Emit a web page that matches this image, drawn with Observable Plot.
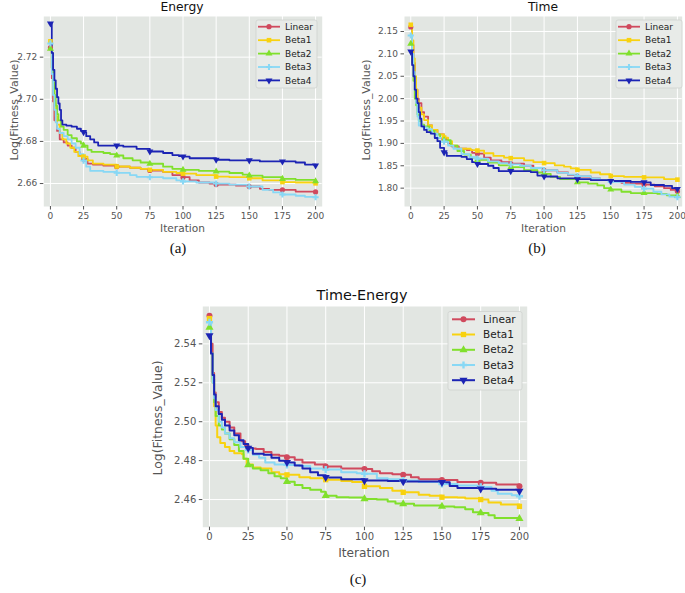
<!DOCTYPE html>
<html><head><meta charset="utf-8">
<script src="https://cdn.jsdelivr.net/npm/d3@7"></script>
<script src="https://cdn.jsdelivr.net/npm/@observablehq/plot@0.6"></script>
<style>
body{margin:0;background:#fff;}
#root{position:relative;width:685px;height:593px;overflow:hidden;font-family:"DejaVu Sans",sans-serif;background:#fff;}
.lbl{position:absolute;white-space:nowrap;transform:translate(-50%,-50%);color:#555;line-height:1;}
.ttl{color:#111;}
.ylab{transform:translate(-50%,-50%) rotate(-90deg);}
.cap{font-family:"Liberation Serif","DejaVu Serif",serif;color:#111;}
</style></head>
<body><div id="root"></div>
<script>
// ---------- data ----------
const seriesNames = ["Linear", "Beta1", "Beta2", "Beta3", "Beta4"];
const seriesColors = ["#d04a5e", "#f8d210", "#80e02c", "#88d8f5", "#1c24b4"];
const xTicks = [0, 25, 50, 75, 100, 125, 150, 175, 200];
const energyYTicks = [2.66, 2.68, 2.70, 2.72];
const timeYTicks = [1.80, 1.85, 1.90, 1.95, 2.00, 2.05, 2.10, 2.15];
const teYTicks = [2.46, 2.48, 2.50, 2.52, 2.54];

const energyLinear = [[0,2.7245],[1,2.71],[2,2.699],[3,2.69],[5,2.685],[7,2.681],[10,2.6795],[13,2.678],[16,2.677],[19,2.675],[22,2.673],[25,2.6717],[28,2.6695],[32,2.669],[40,2.6685],[50,2.668],[60,2.6675],[68,2.667],[75,2.6662],[85,2.6655],[92,2.664],[100,2.663],[105,2.6615],[112,2.6605],[120,2.66],[125,2.6595],[140,2.659],[150,2.6586],[158,2.6575],[165,2.657],[175,2.657],[185,2.6562],[200,2.656]];
const energyBeta1 = [[0,2.7275],[1,2.715],[2,2.705],[3,2.698],[4,2.692],[5,2.688],[7,2.684],[9,2.681],[12,2.679],[15,2.677],[18,2.675],[21,2.673],[25,2.6728],[28,2.671],[32,2.6695],[40,2.669],[50,2.6681],[60,2.6675],[68,2.667],[75,2.6665],[85,2.6655],[95,2.665],[100,2.6647],[110,2.664],[125,2.6633],[135,2.663],[150,2.6625],[160,2.6615],[175,2.6607],[185,2.6605],[200,2.6601]];
const energyBeta2 = [[0,2.724],[1,2.715],[2,2.708],[3,2.702],[4,2.697],[5,2.693],[6,2.69],[8,2.687],[10,2.6855],[13,2.683],[16,2.6815],[20,2.68],[23,2.679],[25,2.678],[28,2.676],[31,2.675],[40,2.6745],[45,2.674],[50,2.6733],[55,2.672],[62,2.671],[68,2.67],[75,2.6694],[85,2.668],[92,2.667],[100,2.6665],[112,2.666],[125,2.6657],[135,2.665],[145,2.6642],[150,2.6638],[160,2.663],[175,2.6622],[185,2.6617],[200,2.6611]];
const energyBeta3 = [[0,2.7265],[1,2.712],[2,2.702],[3,2.695],[4,2.689],[5,2.686],[7,2.684],[10,2.6825],[13,2.681],[16,2.679],[19,2.677],[22,2.674],[25,2.6709],[27,2.668],[30,2.666],[40,2.6655],[50,2.6651],[60,2.664],[65,2.6632],[75,2.663],[85,2.6625],[95,2.6615],[100,2.661],[110,2.6605],[125,2.66],[135,2.6595],[150,2.6586],[160,2.657],[168,2.6558],[175,2.6548],[185,2.6542],[192,2.6537],[200,2.6535]];
const energyBeta4 = [[0,2.736],[1,2.722],[2,2.714],[3,2.709],[4,2.705],[5,2.701],[6,2.698],[7,2.695],[8,2.69],[9,2.688],[12,2.6875],[16,2.687],[20,2.686],[23,2.685],[25,2.6844],[27,2.6825],[30,2.681],[33,2.6795],[36,2.678],[50,2.678],[55,2.6775],[65,2.6765],[75,2.6752],[85,2.6745],[92,2.6735],[97,2.673],[100,2.6728],[105,2.672],[125,2.6713],[135,2.671],[150,2.671],[158,2.6705],[175,2.6705],[185,2.67],[192,2.669],[200,2.6686]];

const timeLinear = [[0,2.16],[1,2.12],[2,2.08],[3,2.04],[4,2.02],[5,2.0],[6,1.99],[8,1.97],[10,1.96],[13,1.94],[16,1.93],[20,1.92],[25,1.909],[28,1.9],[31,1.893],[36,1.888],[42,1.885],[46,1.879],[50,1.877],[55,1.868],[60,1.862],[68,1.858],[75,1.855],[85,1.85],[92,1.845],[100,1.84],[110,1.835],[118,1.829],[125,1.826],[135,1.822],[142,1.818],[150,1.816],[158,1.812],[165,1.81],[175,1.808],[183,1.804],[190,1.8],[195,1.796],[200,1.793]];
const timeBeta1 = [[0,2.165],[1,2.13],[2,2.09],[3,2.05],[4,2.02],[5,1.995],[6,1.98],[8,1.965],[10,1.952],[13,1.94],[16,1.93],[20,1.92],[25,1.913],[28,1.905],[31,1.895],[35,1.888],[45,1.885],[50,1.884],[55,1.878],[62,1.872],[70,1.868],[75,1.867],[85,1.862],[92,1.858],[100,1.856],[108,1.851],[115,1.848],[120,1.844],[125,1.841],[135,1.835],[142,1.831],[150,1.827],[160,1.825],[175,1.824],[190,1.82],[200,1.819]];
const timeBeta2 = [[0,2.1225],[1,2.08],[2,2.04],[3,2.0],[4,1.985],[5,1.965],[6,1.95],[8,1.942],[10,1.938],[14,1.928],[18,1.92],[22,1.912],[25,1.907],[30,1.895],[35,1.883],[40,1.875],[45,1.868],[50,1.863],[58,1.857],[66,1.851],[75,1.847],[85,1.84],[95,1.835],[100,1.832],[105,1.825],[112,1.82],[125,1.813],[133,1.81],[140,1.806],[145,1.8],[150,1.797],[158,1.792],[165,1.789],[175,1.789],[185,1.787],[192,1.784],[200,1.783]];
const timeBeta3 = [[0,2.141],[1,2.1],[2,2.06],[3,2.02],[4,1.99],[5,1.96],[6,1.94],[9,1.936],[12,1.932],[16,1.922],[20,1.912],[25,1.904],[28,1.895],[32,1.888],[38,1.876],[44,1.869],[50,1.866],[58,1.86],[66,1.856],[75,1.853],[82,1.85],[90,1.845],[100,1.84],[110,1.834],[118,1.83],[125,1.827],[135,1.822],[142,1.818],[150,1.814],[160,1.808],[168,1.803],[175,1.799],[182,1.792],[188,1.786],[194,1.781],[200,1.78]];
const timeBeta4 = [[0,2.105],[1,2.075],[2,2.05],[3,2.02],[4,2.0],[5,1.99],[6,1.97],[7,1.955],[8,1.938],[10,1.93],[12,1.925],[15,1.922],[18,1.912],[20,1.905],[22,1.89],[25,1.88],[27,1.872],[38,1.87],[42,1.865],[46,1.858],[50,1.854],[58,1.85],[62,1.845],[66,1.838],[75,1.838],[90,1.836],[95,1.828],[100,1.826],[110,1.822],[125,1.82],[135,1.818],[150,1.816],[165,1.814],[175,1.813],[180,1.807],[190,1.805],[196,1.8],[200,1.798]];

const teLinear = [[0,2.5545],[1,2.54],[2,2.525],[3,2.515],[4,2.51],[6,2.505],[8,2.502],[10,2.5],[13,2.497],[16,2.494],[20,2.49],[23,2.4875],[25,2.4862],[30,2.486],[35,2.4845],[40,2.483],[45,2.4825],[50,2.4817],[55,2.4805],[60,2.479],[68,2.478],[75,2.477],[85,2.476],[100,2.4757],[105,2.4745],[110,2.4735],[118,2.473],[125,2.4727],[130,2.4715],[135,2.4705],[150,2.47],[160,2.469],[175,2.4686],[185,2.4678],[200,2.4668]];
const teBeta1 = [[0,2.553],[1,2.535],[2,2.52],[3,2.508],[4,2.498],[5,2.492],[7,2.489],[10,2.487],[13,2.485],[16,2.4838],[21,2.4833],[22,2.481],[24,2.478],[28,2.4765],[33,2.476],[40,2.474],[45,2.473],[50,2.4727],[58,2.4715],[65,2.471],[75,2.4702],[85,2.4695],[92,2.469],[100,2.4668],[110,2.466],[118,2.4645],[125,2.4637],[135,2.4625],[142,2.462],[150,2.4612],[160,2.461],[165,2.4605],[175,2.46],[180,2.4585],[188,2.4575],[200,2.4565]];
const teBeta2 = [[0,2.5485],[1,2.535],[2,2.522],[3,2.51],[4,2.503],[6,2.498],[8,2.496],[10,2.494],[13,2.491],[16,2.488],[19,2.485],[22,2.481],[25,2.4778],[28,2.476],[33,2.475],[38,2.4735],[42,2.472],[46,2.471],[50,2.4692],[55,2.4675],[60,2.466],[65,2.465],[72,2.464],[75,2.462],[82,2.4612],[90,2.461],[100,2.4603],[108,2.46],[115,2.459],[120,2.458],[125,2.4578],[132,2.457],[150,2.4565],[158,2.456],[165,2.455],[170,2.4535],[175,2.4531],[180,2.452],[184,2.4505],[200,2.4502]];
const teBeta3 = [[0,2.5511],[1,2.535],[2,2.52],[3,2.512],[4,2.506],[6,2.5],[8,2.497],[10,2.494],[13,2.4915],[16,2.4895],[20,2.487],[25,2.4855],[28,2.483],[32,2.4815],[36,2.479],[42,2.478],[50,2.4778],[58,2.4772],[65,2.476],[75,2.4754],[85,2.474],[95,2.4735],[100,2.4732],[108,2.471],[115,2.4705],[125,2.4698],[135,2.469],[150,2.468],[160,2.4672],[175,2.4665],[182,2.4645],[186,2.463],[195,2.4622],[200,2.4617]];
const teBeta4 = [[0,2.5443],[1,2.535],[2,2.524],[3,2.514],[4,2.508],[6,2.504],[8,2.501],[10,2.498],[13,2.4955],[16,2.493],[19,2.4905],[22,2.4885],[25,2.4865],[28,2.4835],[35,2.483],[40,2.4815],[45,2.48],[50,2.4791],[55,2.4775],[60,2.476],[65,2.474],[70,2.4725],[75,2.4714],[85,2.4705],[100,2.4698],[115,2.4695],[125,2.4693],[150,2.4689],[155,2.467],[160,2.466],[175,2.4655],[185,2.465],[200,2.4643]];

// ---------- symbols ----------
const sqrt3 = Math.sqrt(3);
const symbolTriangleDown = {
  draw(context, size) {
    const y = -Math.sqrt(size / (sqrt3 * 3));
    context.moveTo(0, -y * 2);
    context.lineTo(-sqrt3 * y, y);
    context.lineTo(sqrt3 * y, y);
    context.closePath();
  }
};
const seriesSymbols = [d3.symbolCircle, d3.symbolSquare, d3.symbolTriangle, d3.symbolCross, symbolTriangleDown];

const root = document.getElementById("root");
const BG = "#e2e6e2";

function panel(cfg) {
  const {left, top, width, height, ml, mr, mt, mb, xDomain, yDomain, yTicks, data, tickFont, lw, r, legend} = cfg;
  const marks = [
    Plot.frame({fill: BG, stroke: null}),
    Plot.gridX(xTicks, {stroke: "#ffffff", strokeOpacity: 1, strokeWidth: 1}),
    Plot.gridY(yTicks, {stroke: "#ffffff", strokeOpacity: 1, strokeWidth: 1}),
    Plot.axisX(xTicks, {tickSize: 3.5, tickPadding: 2.5, label: null, color: "#555", fontSize: tickFont}),
    Plot.axisY(yTicks, {tickSize: 3.5, tickPadding: 3, label: null, color: "#555", fontSize: tickFont, tickFormat: d3.format(".2f")})
  ];
  data.forEach((vals, k) => {
    marks.push(Plot.line(vals, {x: d => d[0], y: d => d[1], curve: "step-after", stroke: seriesColors[k], strokeWidth: lw}));
  });
  data.forEach((vals, k) => {
    marks.push(Plot.dot(vals.filter(d => d[0] % 25 === 0), {x: d => d[0], y: d => d[1], symbol: seriesSymbols[k], r: r, fill: seriesColors[k], stroke: null}));
  });
  const svg = Plot.plot({
    width, height, marginLeft: ml, marginRight: mr, marginTop: mt, marginBottom: mb,
    x: {domain: xDomain},
    y: {domain: yDomain},
    style: {fontFamily: "DejaVu Sans, sans-serif", fontSize: tickFont + "px", overflow: "visible", background: "transparent"},
    marks
  });
  svg.style.position = "absolute";
  svg.style.left = left + "px";
  svg.style.top = top + "px";
  root.appendChild(svg);

  // legend
  const g = d3.select(svg).append("g").attr("transform", `translate(${-left},${-top})`).attr("text-anchor", "start");
  const L = legend;
  g.append("rect").attr("x", L.x0).attr("y", L.y0).attr("width", L.x1 - L.x0).attr("height", L.y1 - L.y0)
    .attr("rx", 2).attr("fill", "#e8ebe8").attr("stroke", "#cfd2cf").attr("stroke-width", 0.8);
  seriesNames.forEach((name, k) => {
    const y = L.rows[k];
    g.append("line").attr("x1", L.lx0).attr("x2", L.lx1).attr("y1", y).attr("y2", y)
      .attr("stroke", seriesColors[k]).attr("stroke-width", lw);
    g.append("path").attr("transform", `translate(${(L.lx0 + L.lx1) / 2},${y})`)
      .attr("d", d3.symbol(seriesSymbols[k], Math.PI * r * r)()).attr("fill", seriesColors[k]);
    g.append("text").attr("x", L.tx).attr("y", y).attr("dy", "0.35em").attr("fill", "#222")
      .attr("text-anchor", "start")
      .attr("font-size", L.font).attr("font-family", "DejaVu Sans, sans-serif").text(name);
  });
}

function label(text, x, y, size, cls) {
  const d = document.createElement("div");
  d.className = "lbl " + (cls || "");
  d.style.left = x + "px";
  d.style.top = y + "px";
  d.style.fontSize = size + "px";
  d.textContent = text;
  root.appendChild(d);
}

// (a) Energy
panel({left: 0, top: 0, width: 330, height: 225, ml: 43.3, mr: 8.3, mt: 16, mb: 19,
  xDomain: [-5, 205], yDomain: [2.6491, 2.7393], yTicks: energyYTicks,
  data: [energyLinear, energyBeta1, energyBeta2, energyBeta3, energyBeta4], tickFont: 9, lw: 1.8, r: 2.6,
  legend: {x0: 256, x1: 317, y0: 20, y1: 88, rows: [26.7, 40.2, 53.6, 67, 80.4], lx0: 258, lx1: 280, tx: 285, font: 9}});
// (b) Time
panel({left: 345, top: 0, width: 340, height: 225, ml: 59, mr: 3.3, mt: 16, mb: 19,
  xDomain: [-4.7, 203.6], yDomain: [1.759, 2.1835], yTicks: timeYTicks,
  data: [timeLinear, timeBeta1, timeBeta2, timeBeta3, timeBeta4], tickFont: 9, lw: 1.8, r: 2.6,
  legend: {x0: 616, x1: 682, y0: 20, y1: 88, rows: [26.7, 40.2, 53.6, 67, 80.4], lx0: 618, lx1: 640, tx: 645, font: 9}});
// (c) Time-Energy
panel({left: 150, top: 290, width: 385, height: 255, ml: 52.3, mr: 8.3, mt: 16, mb: 18.3,
  xDomain: [-4.3, 205], yDomain: [2.4458, 2.5592], yTicks: teYTicks,
  data: [teLinear, teBeta1, teBeta2, teBeta3, teBeta4], tickFont: 10, lw: 2, r: 3,
  legend: {x0: 448, x1: 522, y0: 311.5, y1: 390, rows: [319.3, 334.5, 349.8, 365, 380.2], lx0: 452, lx1: 475, tx: 483, font: 10.5}});

// titles, axis labels, captions
label("Energy", 182, 6.5, 12.3, "ttl");
label("Time", 543, 6.5, 12.3, "ttl");
label("Time-Energy", 362, 295, 14.4, "ttl");
label("Iteration", 182.5, 228, 10.6);
label("Iteration", 543.5, 228, 10.6);
label("Iteration", 364, 552.5, 12.2);
label("Log(Fitness_Value)", 15, 110, 10.9, "ylab");
label("Log(Fitness_Value)", 367, 110, 10.9, "ylab");
label("Log(Fitness_Value)", 158, 418, 12.4, "ylab");
label("(a)", 178, 248, 15, "cap");
label("(b)", 537, 248, 15, "cap");
label("(c)", 358, 579, 15, "cap");
</script>
</body></html>
